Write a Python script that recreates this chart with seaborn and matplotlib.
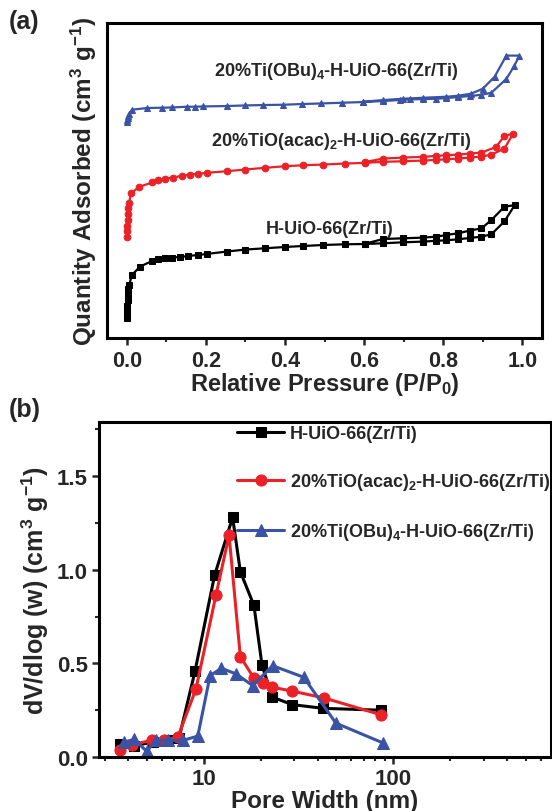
import numpy as np
import pandas as pd
import matplotlib
matplotlib.use("Agg")
import matplotlib.pyplot as plt
import seaborn as sns
from matplotlib.ticker import MultipleLocator, LogLocator, NullFormatter, FixedLocator

# ---------------- data: (a) N2 isotherms (arbitrary offset units) ----------------
names = ["H-UiO-66(Zr/Ti)",
         "20%TiO(acac)$_2$-H-UiO-66(Zr/Ti)",
         "20%Ti(OBu)$_4$-H-UiO-66(Zr/Ti)"]

# H-UiO-66 : adsorption then desorption path
p_black = [0.0005, 0.001, 0.0015, 0.002, 0.003, 0.004, 0.006, 0.013, 0.034, 0.064, 0.080,
           0.097, 0.114, 0.135, 0.156, 0.181, 0.202, 0.253, 0.299, 0.349, 0.400, 0.446,
           0.497, 0.551, 0.602, 0.648, 0.698, 0.749, 0.783, 0.808, 0.837, 0.867, 0.897,
           0.922, 0.955, 0.981,
           0.955, 0.922, 0.897, 0.867, 0.837, 0.808, 0.783, 0.749, 0.698, 0.648, 0.602]
q_black = [20, 26, 32, 38, 44, 49, 53, 63.3, 71.7, 77.3, 79,
           80, 80.7, 81.3, 82.3, 83.3, 84.3, 86.7, 88.7, 90, 91.3, 92.3,
           93.3, 94, 94.3, 95, 96, 96.7, 97.5, 98, 99, 100.3, 101.7,
           104, 117, 133.3,
           131.7, 118.3, 110, 107.7, 105, 103.3, 101.7, 100.7, 100, 99.3, 94.5]

p_red = [0.0005, 0.001, 0.0015, 0.002, 0.003, 0.004, 0.006, 0.010, 0.032, 0.064, 0.080,
         0.097, 0.118, 0.139, 0.160, 0.181, 0.202, 0.253, 0.299, 0.349, 0.400, 0.446,
         0.497, 0.551, 0.602, 0.648, 0.698, 0.749, 0.783, 0.808, 0.837, 0.867, 0.897,
         0.922, 0.955, 0.977,
         0.955, 0.934, 0.897, 0.867, 0.837, 0.808, 0.783, 0.749, 0.698, 0.648, 0.602]
q_red = [101.7, 107, 112, 118, 124, 130, 135, 145, 151.7, 156, 158.3,
         160, 161, 162.7, 164, 164.7, 165.7, 167.3, 169, 170.7, 172.3, 173.3,
         174, 175, 175.7, 176.7, 177.3, 178, 178.7, 179.3, 180, 181, 182,
         184, 190, 205,
         202.7, 191.7, 186, 185, 184, 183.3, 182.7, 181.7, 181, 180, 176.5]

p_blue = [0.0005, 0.001, 0.002, 0.004, 0.006, 0.013, 0.051, 0.089, 0.114, 0.152, 0.173,
          0.194, 0.253, 0.299, 0.345, 0.396, 0.442, 0.492, 0.543, 0.598, 0.648, 0.690,
          0.715, 0.749, 0.783, 0.808, 0.837, 0.867, 0.897, 0.922, 0.960, 0.980, 0.993,
          0.960, 0.930, 0.900, 0.870, 0.837, 0.808, 0.749, 0.698, 0.648, 0.598]
q_blue = [216.7, 218.5, 220.5, 222.5, 225, 229, 230.7, 231, 231.3, 232, 232,
          232.3, 232.7, 233.3, 233.7, 234, 234.7, 235.3, 236, 236.7, 237.7, 238.7,
          239.3, 239.7, 240, 240.7, 241.7, 242.7, 244, 246, 260, 273, 283.3,
          283.3, 262, 250, 245, 243, 242, 241, 240, 238.7, 237]

# ---------------- data: (b) pore size distribution ----------------
w_black = [3.6, 4.3, 5.4, 6.5, 7.4, 9.0, 11.4, 14.2, 15.6, 18.4, 20.3, 23.0, 29.3, 42.7, 86.1]
v_black = [0.07, 0.06, 0.08, 0.09, 0.10, 0.46, 0.97, 1.28, 0.99, 0.81, 0.49, 0.32, 0.28, 0.26, 0.25]

w_red = [3.6, 4.2, 5.3, 6.2, 7.3, 9.1, 11.6, 13.6, 15.6, 18.4, 20.5, 23.0, 29.3, 43.0, 86.6]
v_red = [0.04, 0.066, 0.089, 0.089, 0.107, 0.364, 0.865, 1.185, 0.536, 0.421, 0.396, 0.373, 0.352, 0.316, 0.225]

w_blue = [3.8, 4.3, 5.0, 5.6, 6.5, 7.8, 9.3, 10.8, 12.4, 14.8, 18.1, 23.1, 33.7, 49.8, 87.9]
v_blue = [0.08, 0.094, 0.03, 0.089, 0.089, 0.089, 0.112, 0.435, 0.474, 0.444, 0.382, 0.488, 0.426, 0.181, 0.076]

colors = ["#000000", "#EA2228", "#3A53A4"]
markers = ["s", "o", "^"]

# ---------------- style ----------------
sns.set_theme(style="ticks")
plt.rcParams["font.family"] = ["Liberation Sans", "DejaVu Sans"]
plt.rcParams["font.weight"] = "bold"
plt.rcParams["mathtext.fontset"] = "custom"
plt.rcParams["mathtext.rm"] = "Liberation Sans:bold"
plt.rcParams["mathtext.it"] = "Liberation Sans:bold"
plt.rcParams["mathtext.bf"] = "Liberation Sans:bold"
plt.rcParams["mathtext.default"] = "rm"

fig = plt.figure(figsize=(5.52, 8.12), dpi=100)
axa = fig.add_axes([107 / 552, 1 - 339 / 812, (542 - 107) / 552, (339 - 24) / 812])
axb = fig.add_axes([99 / 552, 1 - 758 / 812, (551 - 99) / 552, (758 - 423) / 812])

# ---------------- panel (a) ----------------
iso = [(p_black, q_black), (p_red, q_red), (p_blue, q_blue)]
for (p, q), c, m, n in zip(iso, colors, markers, names):
    df = pd.DataFrame({"P": p, "Q": q})
    sns.lineplot(data=df, x="P", y="Q", ax=axa, sort=False, estimator=None,
                 color=c, marker=m, markersize=4.8, markeredgecolor=c,
                 linewidth=1.6, legend=False)

axa.set_xlim(-0.05, 1.05)
axa.set_ylim(0, 316)
axa.xaxis.set_major_locator(MultipleLocator(0.2))
axa.xaxis.set_minor_locator(MultipleLocator(0.1))
axa.set_yticks([])
axa.tick_params(axis="x", which="major", direction="out", length=5, width=1.8,
                labelsize=15.5, pad=4)
axa.tick_params(axis="x", which="minor", direction="out", length=3, width=1.5)
for lab in axa.get_xticklabels():
    lab.set_fontweight("bold")
axa.set_xlabel("Relative Pressure (P/P$_0$)", fontsize=17, fontweight="bold", labelpad=-1)
axa.set_ylabel("Quantity Adsorbed (cm$^3$ g$^{-1}$)", fontsize=17.5, fontweight="bold", labelpad=6)
for s in axa.spines.values():
    s.set_linewidth(2.2)
    s.set_color("black")

axa.text(0.530, 268.3, names[2], ha="center", va="center", fontsize=13, fontweight="bold")
axa.text(0.543, 198.3, names[1], ha="center", va="center", fontsize=13, fontweight="bold")
axa.text(0.513, 110, names[0], ha="center", va="center", fontsize=13, fontweight="bold")

# ---------------- panel (b) ----------------
psd = [(w_black, v_black), (w_red, v_red), (w_blue, v_blue)]
msz = [7, 8, 8.5]
for (w, v), c, m, n, ms in zip(psd, colors, markers, names, msz):
    df = pd.DataFrame({"w": w, "v": v})
    sns.lineplot(data=df, x="w", y="v", ax=axb, sort=False, estimator=None,
                 color=c, marker=m, markersize=ms, markeredgecolor=c,
                 linewidth=2.2, label=n)

axb.set_xscale("log")
axb.set_xlim(2.8, 680)
axb.set_ylim(0, 1.79)
axb.xaxis.set_major_locator(FixedLocator([10, 100]))
axb.xaxis.set_minor_locator(LogLocator(base=10, subs=np.arange(2, 10)))
axb.xaxis.set_minor_formatter(NullFormatter())
axb.set_xticklabels(["10", "100"])
axb.yaxis.set_major_locator(MultipleLocator(0.5))
axb.yaxis.set_minor_locator(MultipleLocator(0.25))
axb.yaxis.set_major_formatter(matplotlib.ticker.FormatStrFormatter("%.1f"))
axb.tick_params(axis="both", which="major", direction="out", length=5, width=1.8,
                labelsize=16, pad=3)
axb.tick_params(axis="both", which="minor", direction="out", length=3, width=1.5)
for lab in axb.get_xticklabels() + axb.get_yticklabels():
    lab.set_fontweight("bold")
axb.set_xlabel("Pore Width (nm)", fontsize=17.5, fontweight="bold", labelpad=0)
axb.set_ylabel("dV/dlog (w) (cm$^3$ g$^{-1}$)", fontsize=18, fontweight="bold", labelpad=4)
for s in axb.spines.values():
    s.set_linewidth(2.2)
    s.set_color("black")

leg = axb.legend(loc="upper left", bbox_to_anchor=(0.29, 1.013), frameon=False,
                 fontsize=13, handlelength=2.6, labelspacing=1.62, handletextpad=0.3,
                 borderaxespad=0)
for t in leg.get_texts():
    t.set_fontweight("bold")

fig.text(0.015, 0.988, "(a)", fontsize=18, fontweight="bold", ha="left", va="top")
fig.text(0.015, 0.510, "(b)", fontsize=18, fontweight="bold", ha="left", va="top")

fig.savefig("out.png", dpi=100)
